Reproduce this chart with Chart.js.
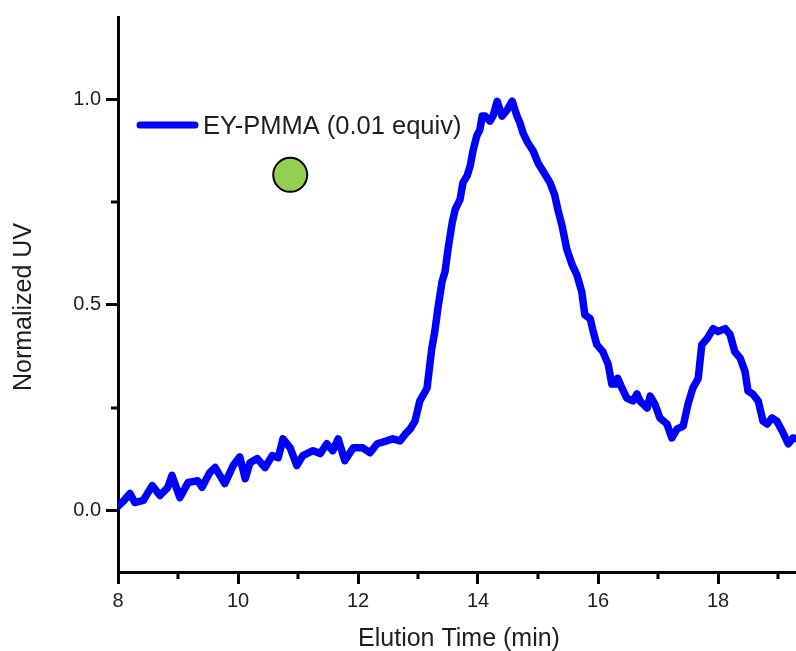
<!DOCTYPE html>
<html>
<head>
<meta charset="utf-8">
<title>EY-PMMA GPC</title>
<script src="https://cdn.jsdelivr.net/npm/chart.js@4/dist/chart.umd.min.js"></script>
<style>
  html, body { margin: 0; padding: 0; background: #fff; }
  canvas { display: block; }
</style>
</head>
<body>
<canvas id="chart-gpc" width="796" height="651"></canvas>
<script>
// datos
const seriesLabel = "EY-PMMA (0.01 equiv)";
const elutionTime = [
  8.00, 8.10, 8.20, 8.28, 8.42, 8.57, 8.70, 8.83, 8.90, 9.03, 9.17, 9.33, 9.40, 9.53, 9.62, 9.78, 9.92,
  10.03, 10.12, 10.20, 10.32, 10.45, 10.57, 10.67, 10.75, 10.87, 10.98, 11.08, 11.25, 11.37, 11.48, 11.58,
  11.67, 11.78, 11.92, 12.08, 12.20, 12.32, 12.48, 12.58, 12.70, 12.78, 12.87, 12.95, 13.03, 13.15, 13.23,
  13.28, 13.33, 13.40, 13.45, 13.50, 13.57, 13.62, 13.70, 13.75, 13.82, 13.87, 13.92, 13.98, 14.03, 14.07,
  14.12, 14.20, 14.25, 14.32, 14.40, 14.48, 14.57, 14.65, 14.70, 14.75, 14.83, 14.92, 15.00, 15.08, 15.20,
  15.28, 15.33, 15.40, 15.48, 15.57, 15.65, 15.73, 15.78, 15.87, 15.92, 15.98, 16.08, 16.17, 16.23, 16.32,
  16.33, 16.40, 16.48, 16.58, 16.65, 16.70, 16.82, 16.87, 16.95, 17.03, 17.15, 17.23, 17.32, 17.42, 17.50,
  17.58, 17.67, 17.73, 17.82, 17.92, 18.00, 18.12, 18.20, 18.28, 18.37, 18.45, 18.50, 18.58, 18.67, 18.75,
  18.82, 18.90, 18.98, 19.07, 19.17, 19.25, 19.33
];
const normalizedUV = [
  0.010, 0.024, 0.041, 0.019, 0.024, 0.060, 0.036, 0.056, 0.085, 0.031, 0.068, 0.072, 0.056, 0.092, 0.104, 0.065, 0.109,
  0.130, 0.077, 0.116, 0.126, 0.104, 0.133, 0.128, 0.174, 0.152, 0.109, 0.133, 0.145, 0.138, 0.162, 0.145,
  0.174, 0.121, 0.152, 0.152, 0.140, 0.162, 0.169, 0.174, 0.169, 0.184, 0.198, 0.217, 0.266, 0.297, 0.394,
  0.435, 0.490, 0.556, 0.580, 0.635, 0.700, 0.732, 0.756, 0.797, 0.814, 0.838, 0.877, 0.911, 0.925, 0.959,
  0.959, 0.947, 0.959, 0.995, 0.959, 0.973, 0.995, 0.959, 0.942, 0.918, 0.894, 0.874, 0.845, 0.826, 0.797,
  0.766, 0.732, 0.693, 0.635, 0.597, 0.572, 0.531, 0.476, 0.466, 0.435, 0.403, 0.386, 0.355, 0.307, 0.307,
  0.321, 0.297, 0.273, 0.266, 0.283, 0.266, 0.249, 0.278, 0.258, 0.225, 0.210, 0.176, 0.198, 0.205, 0.258,
  0.297, 0.321, 0.403, 0.418, 0.442, 0.435, 0.442, 0.428, 0.386, 0.370, 0.338, 0.290, 0.283, 0.266, 0.217,
  0.210, 0.225, 0.217, 0.193, 0.162, 0.176, 0.174
];

// circulo verde (simbolo de la muestra)
const markerX = [10.87];
const markerY = [0.816];

// ejes
const xRange = [8, 19.3];
const yRange = [-0.15, 1.2];
const xMajorTicks = [8, 10, 12, 14, 16, 18];
const xMinorTicks = [9, 11, 13, 15, 17, 19];
const yMajorTicks = [0, 0.5, 1.0];
const yMinorTicks = [0.25, 0.75];
const xTitle = "Elution Time (min)";
const yTitle = "Normalized UV";

const FONT = '"Liberation Sans", Arial, sans-serif';
const TEXT_COLOR = "#1e1e1e";

// ======================================================
// plugin: ticks menores, titulos de ejes y leyenda
// ======================================================
const extrasPlugin = {
  id: "extras",
  afterDraw(chart) {
    const ctx = chart.ctx;
    const area = chart.chartArea;
    const xs = chart.scales.x;
    const ys = chart.scales.y;

    ctx.save();
    ctx.strokeStyle = "#000";
    ctx.lineWidth = 3;
    xMinorTicks.forEach(v => {
      const px = Math.round(xs.getPixelForValue(v));
      if (px > area.right + 1) return;
      ctx.beginPath();
      ctx.moveTo(px, area.bottom);
      ctx.lineTo(px, area.bottom + 7);
      ctx.stroke();
    });
    yMinorTicks.forEach(v => {
      const py = Math.round(ys.getPixelForValue(v));
      ctx.beginPath();
      ctx.moveTo(area.left, py);
      ctx.lineTo(area.left - 7, py);
      ctx.stroke();
    });

    // titulos
    ctx.fillStyle = TEXT_COLOR;
    ctx.font = "25px " + FONT;
    ctx.textAlign = "center";
    ctx.textBaseline = "middle";
    ctx.fillText(xTitle, (area.left + area.right) / 2 + 2, 639);
    ctx.save();
    ctx.translate(24, 307);
    ctx.rotate(-Math.PI / 2);
    ctx.fillText(yTitle, 0, 0);
    ctx.restore();

    // leyenda
    const ds = chart.data.datasets[0];
    ctx.strokeStyle = ds.borderColor;
    ctx.lineWidth = 7;
    ctx.lineCap = "round";
    ctx.beginPath();
    ctx.moveTo(140, 125);
    ctx.lineTo(195, 125);
    ctx.stroke();
    ctx.textAlign = "left";
    ctx.font = "25.5px " + FONT;
    ctx.fillText(ds.label, 203, 127);
    ctx.restore();
  }
};

const chartGpc = new Chart(document.getElementById("chart-gpc"), {
  type: "line",
  data: {
    datasets: [
      {
        label: seriesLabel,
        data: elutionTime.map((t, i) => ({ x: t, y: normalizedUV[i] })),
        borderColor: "#0000ff",
        borderWidth: 7.5,
        borderJoinStyle: "round",
        borderCapStyle: "round",
        pointRadius: 0,
        tension: 0,
        fill: false
      },
      {
        label: "marker",
        data: markerX.map((x, i) => ({ x: x, y: markerY[i] })),
        showLine: false,
        pointRadius: 17,
        pointBackgroundColor: "#92d050",
        pointBorderColor: "#000",
        pointBorderWidth: 2
      }
    ]
  },
  options: {
    responsive: false,
    animation: false,
    layout: { autoPadding: false, padding: { top: 14, right: 0, left: 0, bottom: 0 } },
    plugins: {
      legend: { display: false },
      tooltip: { enabled: false }
    },
    scales: {
      x: {
        type: "linear",
        min: xRange[0],
        max: xRange[1],
        afterBuildTicks: s => { s.ticks = xMajorTicks.map(v => ({ value: v })); },
        afterFit: s => { s.height = 79; },
        ticks: {
          autoSkip: false,
          maxRotation: 0,
          padding: 5,
          color: TEXT_COLOR,
          font: { family: FONT, size: 20 },
          callback: v => String(v)
        },
        grid: {
          drawOnChartArea: false,
          drawTicks: true,
          tickLength: 12,
          tickWidth: 3,
          tickColor: "#000"
        },
        border: { display: true, color: "#000", width: 3 }
      },
      y: {
        type: "linear",
        min: yRange[0],
        max: yRange[1],
        afterBuildTicks: s => { s.ticks = yMajorTicks.map(v => ({ value: v })); },
        afterFit: s => { s.width = 118; },
        ticks: {
          autoSkip: false,
          padding: 5,
          color: TEXT_COLOR,
          font: { family: FONT, size: 20 },
          callback: v => Number(v).toFixed(1)
        },
        grid: {
          drawOnChartArea: false,
          drawTicks: true,
          tickLength: 12,
          tickWidth: 3,
          tickColor: "#000"
        },
        border: { display: true, color: "#000", width: 3 }
      }
    }
  },
  plugins: [extrasPlugin]
});
</script>
</body>
</html>
